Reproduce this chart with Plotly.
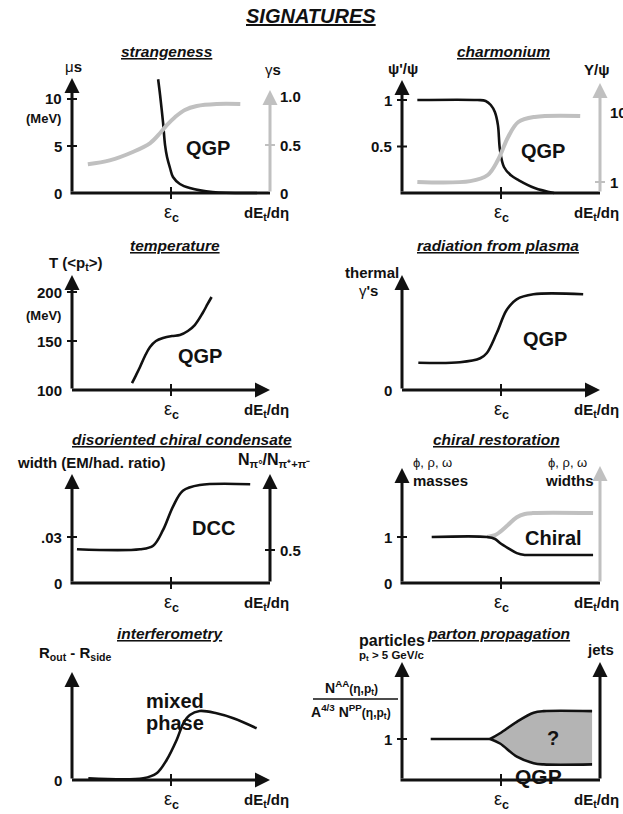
import plotly.graph_objects as go

W, H = 623, 814
XS = 99.0   # pixels per unit of dE_t/dη, with ε_c = 1
PAD = 14    # pixel margin around each subplot so edge shapes stay visible

# ---------------- data (x in units of ε_c) ----------------
# strangeness: μ_s (MeV) and γ_s
mu_s_x = [0.87, 0.89, 0.92, 0.94, 0.96, 0.99, 1.02, 1.09, 1.19, 1.42, 1.87]
mu_s_y = [12.1, 10.4, 7.45, 5.1, 3.83, 2.66, 1.70, 0.96, 0.53, 0.10, 0.0]
gamma_s_x = [0.16, 0.38, 0.62, 0.79, 0.89, 0.96, 1.04, 1.14, 1.26, 1.46, 1.70]
gamma_s_y = [0.30, 0.34, 0.43, 0.52, 0.625, 0.71, 0.79, 0.865, 0.906, 0.927, 0.927]

# charmonium: ψ'/ψ and Υ/ψ
psi_x = [0.155, 0.763, 0.845, 0.897, 0.938, 0.969, 0.99, 1.03, 1.10, 1.175, 1.34, 1.536]
psi_y = [1.0, 1.0, 0.99, 0.946, 0.87, 0.73, 0.46, 0.28, 0.19, 0.14, 0.054, 0.0]
ups_x = [0.155, 0.69, 0.866, 0.969, 1.072, 1.175, 1.34, 1.80]
ups_y = [1.0, 1.03, 1.26, 2.06, 4.4, 7.2, 8.5, 8.77]

# temperature T (MeV)
temp_x = [0.606, 0.646, 0.687, 0.737, 0.788, 0.848, 0.919, 1.01, 1.09, 1.17, 1.24, 1.32, 1.37, 1.41]
temp_y = [107, 115, 123.5, 134.7, 143.9, 150, 153.1, 155.1, 156.1, 160.2, 166.3, 178.6, 187.8, 194.9]

# thermal photons
thermal_x = [0.165, 0.586, 0.79, 0.855, 0.956, 1.057, 1.158, 1.327, 1.83]
thermal_y = [0.273, 0.277, 0.317, 0.367, 0.567, 0.80, 0.907, 0.957, 0.957]

# disoriented chiral condensate width
dcc_x = [0.05, 0.687, 0.82, 0.92, 1.02, 1.12, 1.29, 1.80]
dcc_y = [0.0220, 0.0220, 0.0243, 0.0346, 0.0498, 0.0602, 0.0639, 0.0644]

# chiral restoration: masses and widths
mass_x = [0.30, 0.86, 0.94, 0.99, 1.07, 1.16, 1.24, 1.32, 1.93]
mass_y = [1.0, 1.0, 0.957, 0.87, 0.76, 0.65, 0.61, 0.61, 0.61]
width_x = [0.86, 0.94, 0.99, 1.07, 1.16, 1.24, 1.32, 1.93]
width_y = [1.0, 1.04, 1.11, 1.26, 1.43, 1.50, 1.52, 1.52]

# interferometry R_out - R_side
hbt_x = [0.165, 0.72, 0.855, 0.956, 1.057, 1.125, 1.19, 1.29, 1.46, 1.63, 1.865]
hbt_y = [0.017, 0.017, 0.067, 0.20, 0.40, 0.567, 0.65, 0.69, 0.667, 0.617, 0.517]

# parton propagation: N_AA / (A^4/3 N_PP)
parton_x = [0.29, 0.89]
parton_y = [1.0, 1.0]
parton_band_x = [0.89, 0.99, 1.16, 1.33, 1.43, 1.92]
parton_upper_y = [1.0, 1.14, 1.42, 1.64, 1.68, 1.68]
parton_lower_y = [1.0, 0.89, 0.57, 0.41, 0.38, 0.38]

# ---------------- styling ----------------
BLACK = "#111111"
GRAY = "#c0c0c0"
FILL = "#b4b4b4"
FONT = "Liberation Sans, Arial, Helvetica, sans-serif"

layout = dict(
    width=W, height=H, margin=dict(l=0, r=0, t=0, b=0, pad=0),
    paper_bgcolor="white", plot_bgcolor="rgba(0,0,0,0)", showlegend=False,
    font=dict(family=FONT, color=BLACK),
)
annotations = []
shapes = []
fig = go.Figure()


def lin(p1, v1, p2, v2):
    b = (v2 - v1) / (p2 - p1)
    return lambda p: v1 + b * (p - p1)


def suffix(n):
    return "" if n == 1 else str(n)


def make_panel(n, ox, oy, top, ymap):
    s = suffix(n)
    layout["xaxis" + s] = dict(domain=[(ox - PAD) / W, (ox + 2 * XS + PAD) / W],
                               range=[-PAD / XS, 2 + PAD / XS], visible=False,
                               anchor="y" + s, fixedrange=True)
    layout["yaxis" + s] = dict(domain=[1 - (oy + PAD) / H, 1 - (top - PAD) / H],
                               range=[ymap(oy + PAD), ymap(top - PAD)], visible=False,
                               anchor="x" + s, fixedrange=True)
    return "x" + s, "y" + s


def make_overlay(n, base, oy, top, ymap, log=False):
    s = str(n)
    layout["yaxis" + s] = dict(overlaying="y" + suffix(base), anchor="x" + suffix(base),
                               range=[ymap(oy + PAD), ymap(top - PAD)], visible=False,
                               type="log" if log else "linear", fixedrange=True)
    return "y" + s


def arrow(xr, yr, x0, y0, x1, y1, color=BLACK):
    annotations.append(dict(x=x1, y=y1, ax=x0, ay=y0, xref=xr, yref=yr, axref=xr, ayref=yr,
                            showarrow=True, arrowhead=2, arrowsize=1, arrowwidth=3,
                            arrowcolor=color, text="", standoff=0))


def line(xr, yr, x0, y0, x1, y1, color=BLACK, width=3):
    shapes.append(dict(type="line", xref=xr, yref=yr, x0=x0, y0=y0, x1=x1, y1=y1,
                       line=dict(color=color, width=width)))


def ytick(xr, yr, xpos, val, color=BLACK):
    shapes.append(dict(type="line", xref=xr, yref=yr, xsizemode="pixel", xanchor=xpos,
                       x0=-5, x1=5, y0=val, y1=val, line=dict(color=color, width=2)))


def xtick(xr, yr, val, y0):
    shapes.append(dict(type="line", xref=xr, yref=yr, ysizemode="pixel", yanchor=y0,
                       y0=-6, y1=6, x0=val, x1=val, line=dict(color=BLACK, width=2)))


def label(xr, yr, x, y, text, side="left", size=15):
    annotations.append(dict(x=x, y=y, xref=xr, yref=yr, text=text, showarrow=False,
                            xanchor="right" if side == "left" else "left", yanchor="middle",
                            xshift=-8 if side == "left" else 8,
                            font=dict(size=size, weight="bold", family=FONT)))


def txt(px, py, text, size=15, weight="bold", style="normal", xanchor="center",
        under=False, color=BLACK):
    f = dict(size=size, weight=weight, style=style, family=FONT, color=color)
    if under:
        f["lineposition"] = "under"
    annotations.append(dict(x=px / W, y=1 - py / H, xref="paper", yref="paper", text=text,
                            showarrow=False, xanchor=xanchor, yanchor="middle", font=f))


def bottom_labels(xr, yr, y0):
    annotations.append(dict(x=1, y=y0, xref=xr, yref=yr, showarrow=False, yshift=-20,
                            text="ε<sub><b>c</b></sub>", font=dict(size=18, family=FONT),
                            yanchor="middle"))
    annotations.append(dict(x=2, y=y0, xref=xr, yref=yr, showarrow=False, yshift=-20,
                            xshift=-4, text="dE<sub>t</sub>/dη",
                            font=dict(size=15, weight="bold", family=FONT), yanchor="middle"))
    xtick(xr, yr, 1, y0)


def curve(xr, yr, xs, ys, color=BLACK, width=2.6, **kw):
    fig.add_trace(go.Scatter(x=xs, y=ys, xaxis=xr, yaxis=yr, mode="lines",
                             line=dict(color=color, width=width, shape="spline", smoothing=1),
                             hoverinfo="skip", **kw))


# ---------------- title ----------------
txt(311, 16, "SIGNATURES", size=20, style="italic", under=True)

# ---------------- strangeness ----------------
m1 = lin(193, 0, 99, 10)
m1r = lin(193, 0, 97, 1.0)
x1, y1 = make_panel(1, 72, 193, 78, m1)
y1r = make_overlay(9, 1, 193, 78, m1r)
curve(x1, y1r, gamma_s_x, gamma_s_y, color=GRAY, width=4)
curve(x1, y1, mu_s_x, mu_s_y)
arrow(x1, y1, 0, 0, 0, m1(78))
arrow(x1, y1, 2, 0, 2, m1(90), color=GRAY)
line(x1, y1, -0.015, 0, 2, 0)
for v, t in [(10, "10"), (5, "5")]:
    ytick(x1, y1, 0, v)
    label(x1, y1, 0, v, t)
label(x1, y1, 0, 0, "0")
ytick(x1, y1r, 2, 0.5, color=GRAY)
for v, t in [(1.0, "1.0"), (0.5, "0.5"), (0, "0")]:
    label(x1, y1r, 2, v, t, side="right")
bottom_labels(x1, y1, 0)
txt(167, 52, "strangeness", style="italic", under=True, size=15.5)
txt(73, 67, "μ<b>s</b>", size=15, weight="normal")
txt(43, 119, "(MeV)", size=13)
txt(273, 70, "γ<b>s</b>", size=15, weight="normal")
txt(208, 148, "QGP", size=20)

# ---------------- charmonium ----------------
m2 = lin(193, 0, 100, 1)
m2r = lin(182, 0, 112, 1)   # log10 scale
x2, y2 = make_panel(2, 402, 193, 80, m2)
y2r = make_overlay(10, 2, 193, 80, m2r, log=True)
curve(x2, y2r, ups_x, ups_y, color=GRAY, width=4)
curve(x2, y2, psi_x, psi_y)
arrow(x2, y2, 0, 0, 0, m2(80))
arrow(x2, y2, 2, 0, 2, m2(83), color=GRAY)
line(x2, y2, -0.015, 0, 2, 0)
for v, t in [(1, "1"), (0.5, "0.5")]:
    ytick(x2, y2, 0, v)
    label(x2, y2, 0, v, t)
for v, t in [(1, "10"), (0, "1")]:
    ytick(x2, y2r, 2, v, color=GRAY)
    label(x2, y2r, 2, v, t, side="right")
bottom_labels(x2, y2, 0)
txt(503, 52, "charmonium", style="italic", under=True, size=15.5)
txt(403, 68, "ψ'/ψ", size=15)
txt(596, 70, "Υ/ψ", size=15)
txt(543, 151, "QGP", size=20)

# ---------------- temperature ----------------
m3 = lin(390, 100, 292, 200)
x3, y3 = make_panel(3, 72, 390, 275, m3)
curve(x3, y3, temp_x, temp_y)
arrow(x3, y3, 0, 100, 0, m3(275))
arrow(x3, y3, -0.015, 100, 2, 100)
for v in [200, 150]:
    ytick(x3, y3, 0, v)
    label(x3, y3, 0, v, str(v))
label(x3, y3, 0, 100, "100")
bottom_labels(x3, y3, 100)
txt(175, 245, "temperature", style="italic", under=True, size=15.5)
txt(76, 263, "T (&lt;p<sub>t</sub>&gt;)", size=15)
txt(43, 315, "(MeV)", size=13)
txt(200, 356, "QGP", size=20)

# ---------------- radiation from plasma ----------------
m4 = lin(390, 0, 290, 1)
x4, y4 = make_panel(4, 402, 390, 275, m4)
curve(x4, y4, thermal_x, thermal_y)
arrow(x4, y4, 0, 0, 0, m4(275))
arrow(x4, y4, -0.015, 0, 2, 0)
label(x4, y4, 0, 0, "0")
bottom_labels(x4, y4, 0)
txt(498, 245, "radiation from plasma", style="italic", under=True, size=15.5)
txt(372, 272, "thermal", size=15)
txt(368, 290, "γ<b>'s</b>", size=15, weight="normal")
txt(545, 339, "QGP", size=20)

# ---------------- disoriented chiral condensate ----------------
m5 = lin(583, 0, 537, 0.03)
m5r = lin(583, 0, 550, 0.5)
x5, y5 = make_panel(5, 72, 583, 474, m5)
y5r = make_overlay(11, 5, 583, 474, m5r)
curve(x5, y5, dcc_x, dcc_y)
arrow(x5, y5, 0, 0, 0, m5(474))
arrow(x5, y5, 2, 0, 2, m5(474))
line(x5, y5, -0.015, 0, 2, 0)
ytick(x5, y5, 0, 0.03)
label(x5, y5, 0, 0.03, ".03")
label(x5, y5, 0, 0, "0")
ytick(x5, y5r, 2, 0.5)
label(x5, y5r, 2, 0.5, "0.5", side="right")
bottom_labels(x5, y5, 0)
txt(182, 439, "disoriented chiral condensate", style="italic", under=True, size=15.5)
txt(91, 462, "width (EM/had. ratio)", size=15)
txt(274, 460, "N<sub>π°</sub>/N<sub>π⁺+π⁻</sub>", size=16)
txt(213, 528, "DCC", size=20)

# ---------------- chiral restoration ----------------
m6 = lin(583, 0, 537, 1)
x6, y6 = make_panel(6, 402, 583, 466, m6)
curve(x6, y6, width_x, width_y, color=GRAY, width=4)
curve(x6, y6, mass_x, mass_y)
arrow(x6, y6, 0, 0, 0, m6(468))
arrow(x6, y6, 2, 0, 2, m6(466), color=GRAY)
line(x6, y6, -0.015, 0, 2, 0)
ytick(x6, y6, 0, 1)
label(x6, y6, 0, 1, "1")
label(x6, y6, 0, 0, "0")
bottom_labels(x6, y6, 0)
txt(497, 439, "chiral restoration", style="italic", under=True, size=15.5)
txt(411, 462, "ϕ, ρ, ω", size=13, weight="normal", xanchor="left")
txt(411, 480, "masses", size=15, xanchor="left")
txt(567, 462, "ϕ, ρ, ω", size=13, weight="normal")
txt(569, 480, "widths", size=15)
txt(553, 538, "Chiral", size=20)

# ---------------- interferometry ----------------
m7 = lin(780, 0, 680, 1)
x7, y7 = make_panel(7, 72, 780, 672, m7)
curve(x7, y7, hbt_x, hbt_y)
arrow(x7, y7, 0, 0, 0, m7(672))
arrow(x7, y7, -0.015, 0, 2, 0)
label(x7, y7, 0, 0, "0")
bottom_labels(x7, y7, 0)
txt(170, 633, "interferometry", style="italic", under=True, size=15.5)
txt(75, 653, "R<sub>out</sub> - R<sub>side</sub>", size=15)
txt(175, 701, "mixed", size=20)
txt(175, 723, "phase", size=20)

# ---------------- parton propagation ----------------
m8 = lin(780, 0, 739, 1)
x8, y8 = make_panel(8, 402, 780, 662, m8)
curve(x8, y8, parton_band_x, parton_lower_y)
curve(x8, y8, parton_band_x, parton_upper_y, fill="tonexty", fillcolor=FILL)
curve(x8, y8, parton_x, parton_y)
arrow(x8, y8, 0, 0, 0, m8(662))
arrow(x8, y8, 2, 0, 2, m8(662))
line(x8, y8, -0.015, 0, 2, 0)
ytick(x8, y8, 0, 1)
label(x8, y8, 0, 1, "1")
bottom_labels(x8, y8, 0)
txt(498, 633, "parton propagation", style="italic", under=True, size=15.5)
txt(392, 640, "particles", size=16)
txt(392, 656, "p<sub>t</sub> &gt; 5 GeV/c", size=11.5)
txt(600, 649, "jets", size=15)
txt(351, 687, "N<sup>AA</sup><span style='font-size:12px'>(η,p<sub>t</sub>)</span>", size=14)
shapes.append(dict(type="line", xref="paper", yref="paper", x0=313 / W, x1=398 / W,
                   y0=1 - 699 / H, y1=1 - 699 / H, line=dict(color=BLACK, width=1.5)))
txt(351, 711, "A<sup>4/3</sup> N<sup>PP</sup><span style='font-size:12px'>(η,p<sub>t</sub>)</span>", size=14)
txt(553, 738, "?", size=20)
txt(538, 776, "QGP", size=21)

layout["annotations"] = annotations
layout["shapes"] = shapes
fig.update_layout(**layout)
fig.write_html("out.html")
